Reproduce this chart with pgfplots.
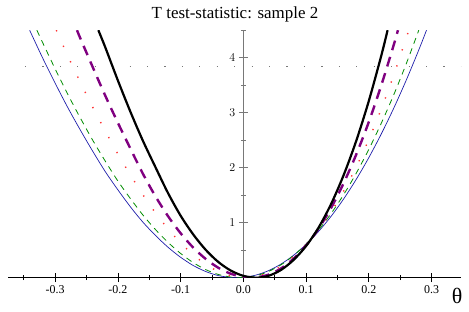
\documentclass[border=0pt]{standalone}
\usepackage{pgfplots}
\pgfplotsset{compat=1.18}
\usepackage{fontspec}
\setmainfont{Liberation Serif}
\definecolor{mpurple}{RGB}{128,0,128}
\definecolor{mgreen}{RGB}{0,140,0}
\definecolor{mblue}{RGB}{30,30,170}
\definecolor{mred}{RGB}{255,50,50}
\definecolor{mgray}{RGB}{120,120,120}
\begin{document}
\begin{tikzpicture}
\useasboundingbox (-8bp,-34.3bp) rectangle (461bp,277.7bp);
\begin{axis}[
 at={(0,0)}, anchor=south west,
 scale only axis, width=453bp, height=247.5bp,
 xmin=-0.375, xmax=0.347, ymin=0, ymax=4.5,
 axis lines=middle,
 axis line style={-},
 x axis line style={black, line width=0.6bp},
 y axis line style={mgray, line width=1.2bp},
 xtick={-0.3,-0.2,-0.1,0,0.1,0.2,0.3},
 xticklabels={-0.3,-0.2,-0.1,0.0,0.1,0.2,0.3},
 minor xtick={-0.35,-0.25,-0.15,-0.05,0.05,0.15,0.25},
 ytick={1,2,3,4},
 minor ytick={0.5,1.5,2.5,3.5,4.5},
 tick align=center,
 major tick length=9bp, minor tick length=5bp,
 x tick style={black, line width=0.6bp},
 y tick style={mgray, line width=1bp},
 hide obscured x ticks=false,
 hide obscured y ticks=false,
 tick label style={font=\fontsize{12}{14}\selectfont},
]
\addplot[mgray, line width=1.2bp, dash pattern=on 1.2bp off 16.24bp] coordinates {(-0.3481,3.84) (0.348,3.84)};
% blue
\addplot[mblue, line width=0.7bp, smooth] coordinates {
(-0.3405,4.5) (-0.32,4.00) (-0.30,3.54) (-0.28,3.10) (-0.26,2.69) (-0.24,2.30) (-0.22,1.93) (-0.20,1.60) (-0.18,1.29) (-0.16,1.01) (-0.14,0.769) (-0.12,0.554) (-0.10,0.372) (-0.08,0.223) (-0.06,0.113) (-0.04,0.039) (-0.02,0.004) (-0.011,0) (0.00,0.006) (0.02,0.047) (0.04,0.127) (0.06,0.247) (0.08,0.406) (0.10,0.604) (0.12,0.841) (0.14,1.117) (0.16,1.433) (0.18,1.788) (0.20,2.182) (0.22,2.615) (0.24,3.087) (0.26,3.599) (0.28,4.149) (0.292,4.5)};
% green
\addplot[mgreen, line width=0.8bp, smooth, dash pattern=on 6bp off 5bp] coordinates {
(-0.329,4.5) (-0.32,4.28) (-0.30,3.80) (-0.28,3.34) (-0.26,2.91) (-0.24,2.50) (-0.22,2.12) (-0.20,1.76) (-0.18,1.44) (-0.16,1.14) (-0.14,0.876) (-0.12,0.643) (-0.10,0.442) (-0.08,0.276) (-0.06,0.148) (-0.04,0.060) (-0.02,0.011) (-0.005,0) (0.02,0.035) (0.04,0.112) (0.06,0.234) (0.08,0.401) (0.10,0.612) (0.12,0.867) (0.14,1.167) (0.16,1.511) (0.18,1.899) (0.20,2.332) (0.22,2.810) (0.24,3.331) (0.26,3.898) (0.2797,4.5)};
% red
\addplot[mred, line width=1.4bp, smooth, dash pattern=on 1.3bp off 15.7bp] coordinates {
(-0.298,4.5) (-0.28,4.04) (-0.26,3.56) (-0.24,3.10) (-0.22,2.67) (-0.20,2.25) (-0.18,1.87) (-0.16,1.51) (-0.14,1.18) (-0.12,0.89) (-0.10,0.635) (-0.08,0.419) (-0.06,0.244) (-0.04,0.114) (-0.02,0.032) (0.002,0) (0.02,0.020) (0.04,0.091) (0.06,0.212) (0.08,0.383) (0.10,0.604) (0.12,0.876) (0.14,1.198) (0.16,1.574) (0.18,2.013) (0.20,2.51) (0.22,3.07) (0.24,3.69) (0.26,4.37) (0.2637,4.5)};
% purple
\addplot[mpurple, line width=2.4bp, smooth, dash pattern=on 10bp off 7bp] coordinates {
(-0.265,4.5) (-0.26,4.36) (-0.24,3.83) (-0.22,3.31) (-0.20,2.82) (-0.18,2.35) (-0.16,1.89) (-0.14,1.48) (-0.12,1.12) (-0.10,0.81) (-0.08,0.55) (-0.06,0.342) (-0.04,0.182) (-0.02,0.072) (0,0.012) (0.014,0) (0.02,0.003) (0.04,0.054) (0.06,0.168) (0.08,0.345) (0.10,0.586) (0.12,0.892) (0.14,1.27) (0.16,1.72) (0.18,2.24) (0.20,2.83) (0.22,3.50) (0.24,4.24) (0.2465,4.5)};
% black
\addplot[black, line width=2.2bp, smooth] coordinates {
(-0.231,4.5) (-0.22,4.19) (-0.20,3.59) (-0.18,3.02) (-0.16,2.49) (-0.14,2.01) (-0.12,1.54) (-0.10,1.13) (-0.08,0.79) (-0.06,0.508) (-0.04,0.288) (-0.02,0.130) (0,0.034) (0.021,0) (0.04,0.033) (0.06,0.140) (0.08,0.321) (0.10,0.575) (0.12,0.911) (0.14,1.341) (0.16,1.867) (0.18,2.488) (0.20,3.211) (0.22,4.04) (0.23,4.5)};
\end{axis}
\node[anchor=base, font=\fontsize{17}{20}\selectfont] at (227bp,258.7bp) {T test-statistic: sample 2};
\node[font=\fontsize{22}{24}\selectfont] at (449bp,-18.5bp) {θ};
\end{tikzpicture}
\end{document}
